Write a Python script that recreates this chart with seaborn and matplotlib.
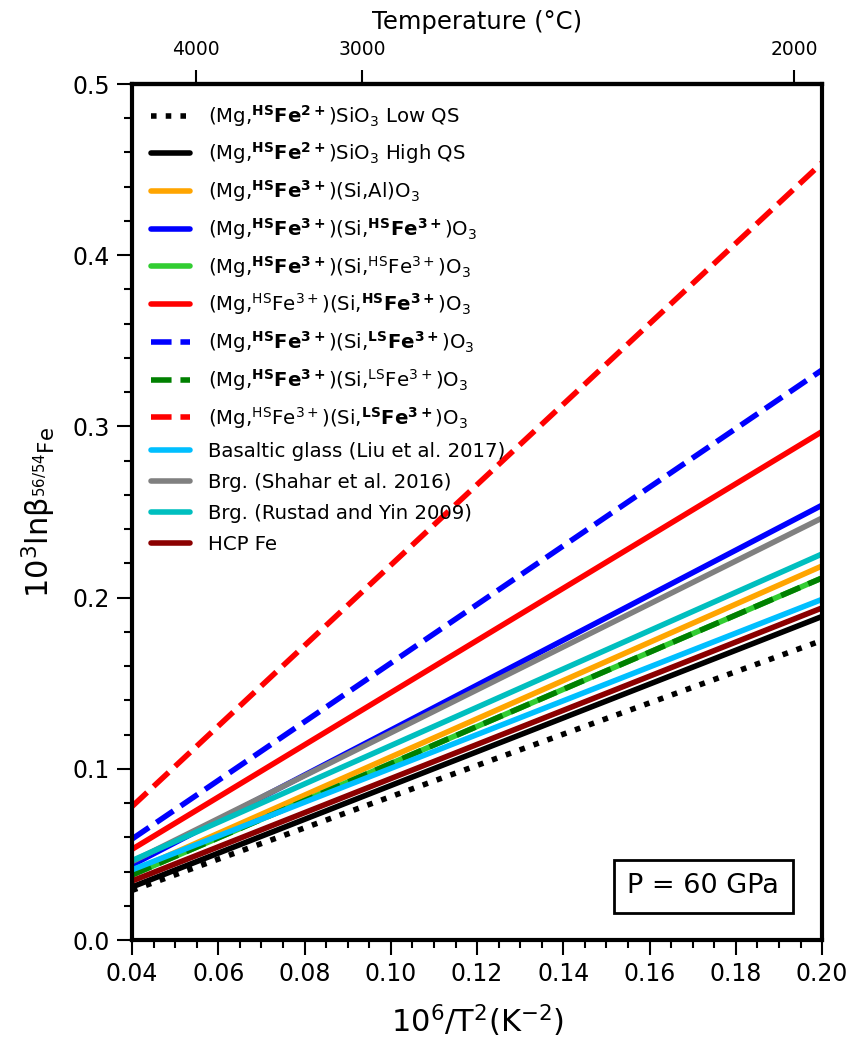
import numpy as np
import pandas as pd
import matplotlib
matplotlib.use("Agg")
import matplotlib.pyplot as plt
import seaborn as sns

sns.set_style("ticks")
plt.rcParams['font.family'] = ['DejaVu Sans']
plt.rcParams['mathtext.default'] = 'regular'
for k in ['text.color', 'axes.labelcolor', 'xtick.color', 'ytick.color', 'axes.edgecolor']:
    plt.rcParams[k] = 'black'

# Data: x = 10^6/T^2, endpoint values of 10^3 ln beta
x_vals = [0.04, 0.20]
labels = [
    r"(Mg,$^{\mathbf{HS}}\mathbf{Fe^{2+}}$)SiO$_3$ Low QS",
    r"(Mg,$^{\mathbf{HS}}\mathbf{Fe^{2+}}$)SiO$_3$ High QS",
    r"(Mg,$^{\mathbf{HS}}\mathbf{Fe^{3+}}$)(Si,Al)O$_3$",
    r"(Mg,$^{\mathbf{HS}}\mathbf{Fe^{3+}}$)(Si,$^{\mathbf{HS}}\mathbf{Fe^{3+}}$)O$_3$",
    r"(Mg,$^{\mathbf{HS}}\mathbf{Fe^{3+}}$)(Si,$^{HS}$Fe$^{3+}$)O$_3$",
    r"(Mg,$^{HS}$Fe$^{3+}$)(Si,$^{\mathbf{HS}}\mathbf{Fe^{3+}}$)O$_3$",
    r"(Mg,$^{\mathbf{HS}}\mathbf{Fe^{3+}}$)(Si,$^{\mathbf{LS}}\mathbf{Fe^{3+}}$)O$_3$",
    r"(Mg,$^{\mathbf{HS}}\mathbf{Fe^{3+}}$)(Si,$^{LS}$Fe$^{3+}$)O$_3$",
    r"(Mg,$^{HS}$Fe$^{3+}$)(Si,$^{\mathbf{LS}}\mathbf{Fe^{3+}}$)O$_3$",
    "Basaltic glass (Liu et al. 2017)",
    "Brg. (Shahar et al. 2016)",
    "Brg. (Rustad and Yin 2009)",
    "HCP Fe",
]
y_start = [0.029, 0.031, 0.040, 0.0438, 0.038, 0.053, 0.059, 0.038, 0.078, 0.041, 0.0458, 0.0464, 0.0345]
y_end   = [0.175, 0.189, 0.2185, 0.254, 0.2115, 0.297, 0.333, 0.2115, 0.454, 0.199, 0.2465, 0.2255, 0.194]
colors = ["black", "black", "orange", "blue", "limegreen", "red", "blue", "green", "red",
          "deepskyblue", "gray", "c", "darkred"]
styles = [":", "-", "-", "-", "-", "-", "--", "--", "--", "-", "-", "-", "-"]

temp_ticks = [4000, 3000, 2000]

fig = plt.figure(figsize=(8.53, 10.41), dpi=100)
ax = fig.add_axes([0.1548, 0.097, 0.809, 0.8223])

for lab, a, b, c, ls in zip(labels, y_start, y_end, colors, styles):
    df = pd.DataFrame({"x": x_vals, "y": [a, b]})
    sns.lineplot(data=df, x="x", y="y", ax=ax, color=c, linestyle=ls, linewidth=4,
                 label=lab, legend=False)

ax.set_xlim(0.04, 0.20)
ax.set_ylim(0.0, 0.5)
ax.set_xticks(np.arange(0.04, 0.2001, 0.02))
ax.set_xticklabels([f"{v:.2f}" for v in np.arange(0.04, 0.2001, 0.02)])
ax.set_xticks(np.arange(0.04, 0.2001, 0.005), minor=True)
ax.set_yticks(np.arange(0.0, 0.5001, 0.1))
ax.set_yticklabels([f"{v:.1f}" for v in np.arange(0.0, 0.5001, 0.1)])
ax.set_yticks(np.arange(0.0, 0.5001, 0.02), minor=True)
ax.tick_params(axis='both', which='major', direction='out', length=11, width=1.5,
               labelsize=17, pad=5, colors='black')
ax.tick_params(axis='both', which='minor', direction='out', length=5.5, width=1.5, colors='black')
ax.tick_params(right=False, top=False, which='both')
for sp in ax.spines.values():
    sp.set_linewidth(3)
    sp.set_visible(True)
    sp.set_color('black')

ax.set_xlabel(r"10$^6$/T$^2$(K$^{-2}$)", fontsize=22, labelpad=12)
ax.set_ylabel(r"10$^3$ln$\beta_{^{56/54}Fe}$", fontsize=22, labelpad=10)

def fwd(x):
    x = np.asarray(x, dtype=float)
    return 1000.0 / np.sqrt(np.clip(x, 1e-9, None)) - 273.15

def inv(t):
    t = np.asarray(t, dtype=float)
    return 1e6 / np.clip(t + 273.15, 1e-9, None) ** 2

sec = ax.secondary_xaxis('top', functions=(fwd, inv))
sec.set_xticks(temp_ticks)
sec.set_xticklabels([str(t) for t in temp_ticks])
sec.tick_params(axis='x', which='major', direction='out', length=10, width=1.5,
                labelsize=13.5, pad=8, colors='black')
sec.tick_params(axis='x', which='minor', length=0)
sec.set_xlabel("Temperature (°C)", fontsize=17.5, labelpad=8)
sec.spines['top'].set_linewidth(3)
sec.spines['top'].set_color('black')

ax.legend(loc='upper left', frameon=False, fontsize=14.2, handlelength=2.0,
          handletextpad=0.9, borderaxespad=0.55, labelspacing=0.6,
          bbox_to_anchor=(0.0, 1.0))

ax.text(0.938, 0.063, "P = 60 GPa", transform=ax.transAxes, fontsize=19.5,
        ha='right', va='center',
        bbox=dict(boxstyle='square,pad=0.5', facecolor='white', edgecolor='black', linewidth=2))

fig.savefig("out.png", dpi=100)
